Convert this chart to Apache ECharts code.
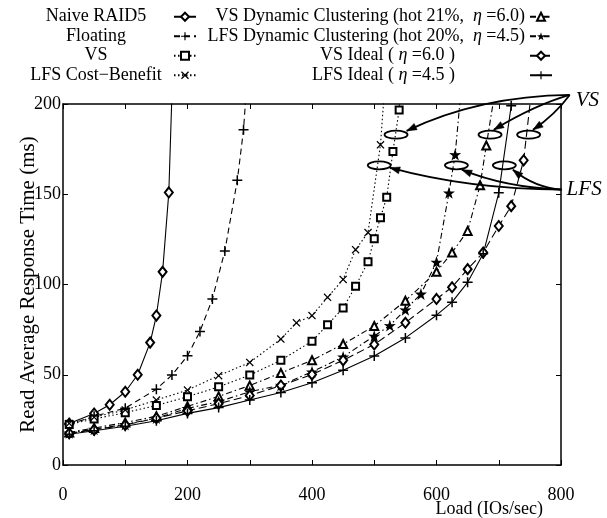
<!DOCTYPE html>
<html>
<head>
<meta charset="utf-8">
<script src="https://cdn.jsdelivr.net/npm/echarts@6/dist/echarts.min.js"></script>
<style>
html,body{margin:0;padding:0;background:#fff;}
#c{width:607px;height:518px;}
</style>
</head>
<body>
<div id="c"></div>
<script>
// ---------- data ----------
const seriesNames = [
  'Naive RAID5', 'Floating', 'VS', 'LFS Cost\u2212Benefit',
  'VS Dynamic Clustering (hot 21%,  \u03b7 =6.0)', 'LFS Dynamic Clustering (hot 20%,  \u03b7 =4.5)',
  'VS Ideal ( \u03b7 =6.0 )', 'LFS Ideal ( \u03b7 =4.5 )'
];
const loadNaive = [10, 50, 75, 100, 120, 140, 150, 160, 170, 180];
const rtNaive   = [23, 28.5, 33.4, 40.6, 50, 67.8, 82.8, 107, 151, 260];
const loadFloating = [10, 50, 100, 150, 175, 200, 220, 240, 260, 280, 290, 300];
const rtFloating   = [22.5, 27, 31.5, 42, 49.8, 60.5, 74, 92, 118.6, 157.7, 185.7, 235];
const loadVS = [10, 50, 100, 150, 200, 250, 300, 350, 400, 425, 450, 470, 490, 500, 510, 520, 530, 540, 550];
const rtVS   = [22.5, 25.5, 29, 33, 37.8, 43.3, 49.8, 58, 68.6, 77.7, 87, 99, 112.6, 125.4, 137, 148.4, 173.7, 196.7, 260];
const loadCB = [10, 50, 100, 150, 200, 250, 300, 350, 375, 400, 425, 450, 470, 490, 510, 520];
const rtCB   = [23, 26.5, 30.5, 36, 41.5, 49.5, 56.8, 69.8, 78.8, 82.8, 92.9, 102.8, 119.3, 128.8, 177.4, 225];
const loadVSDyn = [10, 50, 100, 150, 200, 250, 300, 350, 400, 450, 500, 550, 600, 625, 650, 670, 680, 700];
const rtVSDyn   = [18, 20.5, 23.5, 27, 32.5, 38, 44, 51, 58, 67, 77, 91, 107, 117.7, 129.7, 155, 177, 220];
const loadLFSDyn = [10, 50, 100, 150, 200, 250, 300, 350, 400, 450, 500, 525, 550, 575, 600, 620, 630, 640];
const rtLFSDyn   = [17.8, 19.8, 22.5, 26, 31.4, 35.1, 40.6, 44.2, 51.6, 59.9, 71.5, 77.3, 86, 94.8, 112.4, 150.8, 172, 210];
const loadVSIdeal = [10, 50, 100, 150, 200, 250, 300, 350, 400, 450, 500, 550, 600, 625, 650, 675, 700, 720, 740, 760];
const rtVSIdeal   = [17.6, 19.5, 22.2, 25.9, 30, 34, 38.5, 44, 50.1, 58, 66.8, 78.8, 92, 98.5, 108.5, 117.7, 132.4, 143.4, 168.8, 230];
const loadLFSIdeal = [10, 50, 100, 150, 200, 250, 300, 350, 400, 450, 500, 550, 600, 625, 650, 675, 700, 720];
const rtLFSIdeal   = [17, 19, 21.5, 24.5, 28.6, 31.8, 36, 40.2, 45.6, 52.5, 60.4, 70.4, 83, 90.2, 101.2, 117, 150.8, 199];

const xTicks = [0, 200, 400, 600, 800];
const yTicks = [0, 50, 100, 150, 200];

// annotation anchors (data coordinates)
const vsSource = [814, 205];
const vsTargets = [[535, 183], [686, 183], [748, 183]];
const vsTips = [[552, 185.1], [692, 185.7], [755, 185.7]];
const vsCtrls = [[670, 204.4], [758, 199.4], [790, 193.9]];
const lfsSource = [801, 152.6];
const lfsTargets = [[508, 166], [632, 166], [709, 166]];
const lfsTips = [[525, 164.7], [640.7, 163.6], [722.7, 163.6]];
const lfsCtrls = [[653.5, 152.6], [709.8, 153.7], [758, 153.7]];

// ---------- styling ----------
const FONT = 'Liberation Serif';
const PLUS = 'path://M4.25,0H5.75V4.25H10V5.75H5.75V10H4.25V5.75H0V4.25H4.25Z';
const CROSS = 'path://M1.1,0L5,3.9L8.9,0L10,1.1L6.1,5L10,8.9L8.9,10L5,6.1L1.1,10L0,8.9L3.9,5L0,1.1Z';
const STAR = 'path://M50,0L61.8,35.5L97.6,34.5L69,56.5L79.4,90.5L50,70L20.6,90.5L31,56.5L2.4,34.5L38.2,35.5Z';
const DASH = [6, 4], DOT = [1.5, 2.5], DASHDOT = [6, 3, 1.5, 3];

function pairs(xs, ys) { return xs.map((x, i) => [x, ys[i]]); }

const defs = [
  {x: loadNaive, y: rtNaive, symbol: 'emptyDiamond', size: [8, 10], type: 'solid', bw: 1.2},
  {x: loadFloating, y: rtFloating, symbol: PLUS, size: 10, type: DASH, bw: 0},
  {x: loadVS, y: rtVS, symbol: 'emptyRect', size: 7, type: DOT, bw: 1.3},
  {x: loadCB, y: rtCB, symbol: CROSS, size: 8, type: DOT, bw: 0},
  {x: loadVSDyn, y: rtVSDyn, symbol: 'emptyTriangle', size: 8, type: DASHDOT, bw: 1.2},
  {x: loadLFSDyn, y: rtLFSDyn, symbol: STAR, size: 12, type: DASHDOT, bw: 0},
  {x: loadVSIdeal, y: rtVSIdeal, symbol: 'emptyDiamond', size: [8, 10], type: [8, 4], bw: 1.2},
  {x: loadLFSIdeal, y: rtLFSIdeal, symbol: PLUS, size: 10, type: 'solid', bw: 0}
];

const series = defs.map((d, i) => ({
  name: seriesNames[i],
  type: 'line',
  data: pairs(d.x, d.y),
  symbol: d.symbol,
  symbolSize: d.size,
  showAllSymbol: true,
  clip: true,
  color: '#000',
  lineStyle: {color: '#000', width: 1.1, type: d.type},
  itemStyle: {color: '#000', borderColor: '#000', borderWidth: d.bw},
  emphasis: {disabled: true},
  z: 3
}));

const richBase = {
  n: {fontFamily: FONT, fontSize: 18, color: '#000'},
  i: {fontFamily: FONT, fontSize: 18, color: '#000', fontStyle: 'italic'},
  c: {fontFamily: FONT, fontSize: 18, color: '#000', width: 146, align: 'center'},
  p: {fontFamily: FONT, fontSize: 18, width: 70}
};

function fmtCol2(name) {
  const parts = name.split('\u03b7');
  let s = '{n|' + parts[0] + '}{i|\u03b7}{n|' + parts[1] + '}';
  if (name.indexOf('Ideal') >= 0) s += '{p| }';
  return s;
}

const legendCommon = {
  orient: 'vertical',
  align: 'right',
  padding: 0,
  itemGap: 0,
  itemWidth: 22,
  itemHeight: 10,
  selectedMode: false,
  top: 7,
  textStyle: {fontFamily: FONT, fontSize: 18, color: '#000', lineHeight: 19.5, rich: richBase}
};

const axisLineStyle = {color: '#000', width: 1.5};
const tickStyle = {color: '#000', width: 1};

const option = {
  animation: false,
  backgroundColor: '#fff',
  textStyle: {fontFamily: FONT},
  grid: {left: 63, right: 46, top: 104, bottom: 51},
  legend: [
    Object.assign({}, legendCommon, {
      right: 410,
      data: seriesNames.slice(0, 4),
      formatter: name => '{c|' + name + '}'
    }),
    Object.assign({}, legendCommon, {
      right: 54,
      data: seriesNames.slice(4),
      formatter: fmtCol2
    })
  ],
  xAxis: [
    {
      type: 'value', min: 0, max: 800, interval: 100, position: 'bottom',
      axisLine: {onZero: false, lineStyle: axisLineStyle},
      axisTick: {inside: true, length: 5, lineStyle: tickStyle},
      splitLine: {show: false},
      axisLabel: {
        color: '#000', fontFamily: FONT, fontSize: 18, margin: 21,
        formatter: v => (xTicks.indexOf(v) >= 0 ? String(v) : '')
      },
      name: 'Load (IOs/sec)',
      nameLocation: 'end',
      nameGap: -18,
      nameMoveOverlap: false,
      nameTextStyle: {fontFamily: FONT, fontSize: 18, color: '#000', align: 'right', verticalAlign: 'top', padding: [35, 0, 0, 0]}
    },
    {
      type: 'value', min: 0, max: 800, interval: 100, position: 'top',
      axisLine: {onZero: false, lineStyle: axisLineStyle},
      axisTick: {inside: true, length: 5, lineStyle: tickStyle},
      splitLine: {show: false},
      axisLabel: {show: false}
    }
  ],
  yAxis: [
    {
      type: 'value', min: 0, max: 200, interval: 50, position: 'left',
      axisLine: {onZero: false, lineStyle: axisLineStyle},
      axisTick: {inside: true, length: 5, lineStyle: tickStyle},
      splitLine: {show: false},
      axisLabel: {
        color: '#000', fontFamily: FONT, fontSize: 18, margin: 2,
        formatter: v => (yTicks.indexOf(v) >= 0 ? String(v) : '')
      },
      name: 'Read Average Response Time (ms)',
      nameLocation: 'middle',
      nameGap: 24,
      nameMoveOverlap: false,
      nameTextStyle: {fontFamily: FONT, fontSize: 21, color: '#000'}
    },
    {
      type: 'value', min: 0, max: 200, interval: 50, position: 'right',
      axisLine: {onZero: false, lineStyle: axisLineStyle},
      axisTick: {inside: true, length: 5, lineStyle: tickStyle},
      splitLine: {show: false},
      axisLabel: {show: false}
    }
  ],
  series: series
};

const chart = echarts.init(document.getElementById('c'), null, {renderer: 'canvas'});
chart.setOption(option);

// ---------- annotations (ellipses + arrows), placed through the axes ----------
function toPx(p) { return chart.convertToPixel({xAxisIndex: 0, yAxisIndex: 0}, p); }

function arrowGroup(source, targets, tips, ctrls, label, labelDx, labelDy) {
  const els = [];
  const s = toPx(source);
  targets.forEach((t, i) => {
    const c = toPx(t), e = toPx(tips[i]), k = toPx(ctrls[i]);
    els.push({type: 'ellipse', z: 100, shape: {cx: c[0], cy: c[1], rx: 11.5, ry: 4},
      style: {fill: 'none', stroke: '#000', lineWidth: 1.8}});
    els.push({type: 'bezierCurve', z: 100, shape: {x1: s[0], y1: s[1], cpx1: k[0], cpy1: k[1], x2: e[0], y2: e[1]},
      style: {fill: 'none', stroke: '#000', lineWidth: 1.8}});
    let dx = e[0] - k[0], dy = e[1] - k[1];
    const L = Math.sqrt(dx * dx + dy * dy) || 1;
    dx /= L; dy /= L;
    const len = 10, hw = 3.5;
    const bx = e[0] - dx * len, by = e[1] - dy * len;
    els.push({type: 'polygon', z: 101, shape: {points: [[e[0], e[1]], [bx - dy * hw, by + dx * hw], [bx + dy * hw, by - dx * hw]]},
      style: {fill: '#000', stroke: '#000', lineWidth: 0.5}});
  });
  els.push({type: 'text', z: 101, style: {text: label, x: s[0] + labelDx, y: s[1] + labelDy,
    fontFamily: FONT, fontSize: 21, fontStyle: 'italic', fill: '#000', verticalAlign: 'middle', align: 'left'}});
  return els;
}

const elements = [].concat(
  arrowGroup(vsSource, vsTargets, vsTips, vsCtrls, 'VS', 6, 6),
  arrowGroup(lfsSource, lfsTargets, lfsTips, lfsCtrls, 'LFS', 5, 0)
);
chart.setOption({graphic: {elements: elements}});
</script>
</body>
</html>
